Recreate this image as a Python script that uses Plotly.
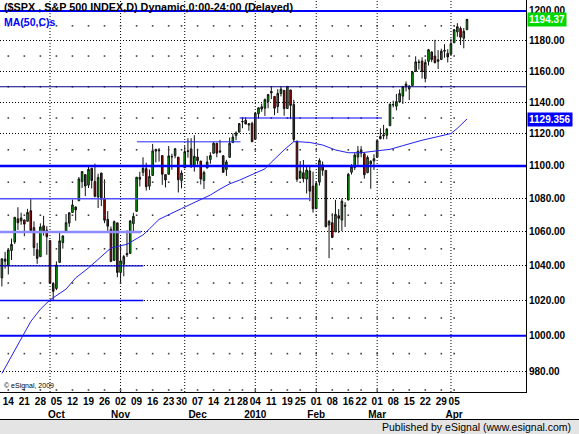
import math
import plotly.graph_objects as go

# daily bars, $SPX
dates = [
    "2009-09-10", "2009-09-11", "2009-09-14", "2009-09-15", "2009-09-16", "2009-09-17", "2009-09-18",
    "2009-09-21", "2009-09-22", "2009-09-23", "2009-09-24", "2009-09-25", "2009-09-28", "2009-09-29", "2009-09-30",
    "2009-10-01", "2009-10-02", "2009-10-05", "2009-10-06", "2009-10-07", "2009-10-08", "2009-10-09",
    "2009-10-12", "2009-10-13", "2009-10-14", "2009-10-15", "2009-10-16", "2009-10-19", "2009-10-20",
    "2009-10-21", "2009-10-22", "2009-10-23", "2009-10-26", "2009-10-27", "2009-10-28", "2009-10-29", "2009-10-30",
    "2009-11-02", "2009-11-03", "2009-11-04", "2009-11-05", "2009-11-06", "2009-11-09", "2009-11-10",
    "2009-11-11", "2009-11-12", "2009-11-13", "2009-11-16", "2009-11-17", "2009-11-18", "2009-11-19",
    "2009-11-20", "2009-11-23", "2009-11-24", "2009-11-25", "2009-11-27", "2009-11-30",
    "2009-12-01", "2009-12-02", "2009-12-03", "2009-12-04", "2009-12-07", "2009-12-08", "2009-12-09",
    "2009-12-10", "2009-12-11", "2009-12-14", "2009-12-15", "2009-12-16", "2009-12-17", "2009-12-18",
    "2009-12-21", "2009-12-22", "2009-12-23", "2009-12-24", "2009-12-28", "2009-12-29", "2009-12-30", "2009-12-31",
    "2010-01-04", "2010-01-05", "2010-01-06", "2010-01-07", "2010-01-08", "2010-01-11", "2010-01-12",
    "2010-01-13", "2010-01-14", "2010-01-15", "2010-01-19", "2010-01-20", "2010-01-21", "2010-01-22",
    "2010-01-25", "2010-01-26", "2010-01-27", "2010-01-28", "2010-01-29",
    "2010-02-01", "2010-02-02", "2010-02-03", "2010-02-04", "2010-02-05", "2010-02-08", "2010-02-09",
    "2010-02-10", "2010-02-11", "2010-02-12", "2010-02-16", "2010-02-17", "2010-02-18", "2010-02-19",
    "2010-02-22", "2010-02-23", "2010-02-24", "2010-02-25", "2010-02-26",
    "2010-03-01", "2010-03-02", "2010-03-03", "2010-03-04", "2010-03-05", "2010-03-08", "2010-03-09",
    "2010-03-10", "2010-03-11", "2010-03-12", "2010-03-15", "2010-03-16", "2010-03-17", "2010-03-18",
    "2010-03-19", "2010-03-22", "2010-03-23", "2010-03-24", "2010-03-25", "2010-03-26", "2010-03-29",
    "2010-03-30", "2010-03-31",
    "2010-04-01", "2010-04-05", "2010-04-06", "2010-04-07", "2010-04-08", "2010-04-09",
]
opens = [
    1032.99, 1043.92, 1040.15, 1049.03, 1053.99, 1067.87, 1066.60, 1067.14, 1066.35, 1072.69, 1062.56, 1049.48, 1045.38, 1063.69, 1061.02,
    1054.91, 1029.71, 1026.87, 1042.02, 1053.65, 1060.03, 1065.28, 1071.63, 1074.96, 1078.68, 1090.36, 1094.67, 1088.22, 1098.64, 1090.36, 1080.96, 1095.62, 1080.36, 1067.54, 1061.51, 1043.19, 1065.41,
    1036.18, 1040.92, 1047.30, 1047.30, 1064.95, 1072.31, 1091.86, 1096.04, 1098.31, 1087.59, 1094.13, 1109.22, 1109.44, 1106.44, 1094.66, 1094.86, 1105.83, 1106.49, 1105.47, 1091.07,
    1098.89, 1109.03, 1110.59, 1100.43, 1105.52, 1103.04, 1091.07, 1098.69, 1103.96, 1107.84, 1114.11, 1108.61, 1106.36, 1097.86, 1105.31, 1114.51, 1118.84, 1121.08, 1127.53, 1128.55, 1125.53, 1126.60,
    1116.56, 1132.66, 1135.71, 1136.27, 1140.52, 1145.96, 1143.81, 1137.31, 1145.68, 1147.72, 1136.03, 1147.95, 1138.68, 1115.49, 1092.40, 1095.80, 1091.94, 1096.93, 1087.61,
    1073.89, 1090.05, 1100.67, 1097.25, 1064.12, 1065.51, 1060.06, 1069.68, 1067.10, 1075.95, 1079.13, 1096.14, 1099.03, 1105.49, 1110.00, 1107.49, 1095.89, 1101.24, 1103.10,
    1105.36, 1117.01, 1119.36, 1119.12, 1125.12, 1138.40, 1137.56, 1140.22, 1143.96, 1151.71, 1148.53, 1150.83, 1159.94, 1166.13, 1166.68, 1155.35, 1166.47, 1172.70, 1170.03, 1167.58, 1167.71, 1173.75, 1171.75,
    1171.23, 1178.71, 1186.01, 1188.23, 1181.75, 1187.47,
]
highs = [
    1044.14, 1048.18, 1049.74, 1056.04, 1068.76, 1074.77, 1071.52, 1067.28, 1073.81, 1080.15, 1066.29, 1053.47, 1065.13, 1069.62, 1063.40,
    1054.91, 1030.60, 1042.58, 1060.55, 1058.02, 1070.67, 1071.51, 1079.46, 1075.30, 1093.17, 1096.56, 1094.67, 1100.17, 1098.64, 1101.36, 1095.21, 1095.83, 1091.75, 1072.48, 1063.26, 1066.83, 1065.41,
    1052.18, 1046.36, 1061.00, 1066.65, 1071.48, 1093.19, 1096.42, 1105.37, 1101.97, 1097.79, 1113.69, 1110.52, 1111.10, 1106.44, 1094.66, 1112.38, 1107.56, 1111.18, 1105.47, 1097.24,
    1112.28, 1117.24, 1117.28, 1119.13, 1110.72, 1103.04, 1097.04, 1106.25, 1108.50, 1114.76, 1114.11, 1116.21, 1106.36, 1103.74, 1117.68, 1120.27, 1121.58, 1126.48, 1130.38, 1130.38, 1126.42, 1127.64,
    1133.87, 1136.63, 1139.19, 1142.46, 1145.39, 1149.74, 1143.81, 1148.40, 1150.41, 1147.77, 1150.45, 1147.95, 1141.58, 1115.49, 1102.97, 1103.69, 1099.51, 1100.22, 1096.45,
    1089.38, 1104.73, 1102.72, 1097.25, 1067.13, 1071.20, 1079.28, 1073.67, 1080.04, 1077.81, 1095.67, 1101.03, 1108.24, 1112.42, 1112.29, 1108.58, 1106.42, 1103.50, 1107.24,
    1116.11, 1123.46, 1125.64, 1123.73, 1139.38, 1141.05, 1145.37, 1148.26, 1150.24, 1153.41, 1150.98, 1160.28, 1169.84, 1167.77, 1169.20, 1167.82, 1174.72, 1173.04, 1180.69, 1173.93, 1174.85, 1177.83, 1174.56,
    1181.43, 1187.73, 1191.80, 1189.60, 1188.55, 1194.66,
]
lows = [
    1028.04, 1038.40, 1035.00, 1043.42, 1052.87, 1061.20, 1064.27, 1057.46, 1066.35, 1060.39, 1045.85, 1041.17, 1045.38, 1057.83, 1046.47,
    1029.45, 1019.95, 1025.92, 1042.02, 1050.10, 1060.03, 1063.00, 1071.63, 1066.71, 1078.68, 1086.41, 1081.53, 1086.48, 1086.16, 1080.77, 1074.31, 1075.49, 1065.23, 1060.62, 1042.19, 1043.19, 1033.38,
    1029.38, 1033.94, 1045.15, 1047.30, 1059.32, 1072.31, 1087.40, 1093.81, 1084.90, 1085.33, 1094.13, 1102.19, 1102.70, 1088.40, 1086.81, 1094.86, 1097.63, 1104.75, 1083.74, 1086.25,
    1098.89, 1105.10, 1098.74, 1096.52, 1100.83, 1088.61, 1085.89, 1098.69, 1101.34, 1107.84, 1105.35, 1107.96, 1095.88, 1093.88, 1105.31, 1114.51, 1116.00, 1121.08, 1123.51, 1126.08, 1121.94, 1114.81,
    1116.56, 1129.66, 1133.95, 1131.32, 1136.22, 1142.02, 1131.77, 1133.18, 1143.80, 1131.39, 1135.77, 1129.25, 1114.84, 1090.18, 1092.40, 1089.86, 1083.11, 1078.46, 1071.59,
    1073.89, 1087.96, 1093.97, 1062.78, 1044.50, 1056.51, 1060.06, 1059.34, 1060.59, 1062.97, 1079.13, 1094.72, 1097.48, 1100.80, 1105.38, 1092.18, 1095.50, 1086.02, 1097.56,
    1105.36, 1116.51, 1116.58, 1116.66, 1125.12, 1136.77, 1134.90, 1140.09, 1138.99, 1146.97, 1141.45, 1150.35, 1159.94, 1161.16, 1155.33, 1152.88, 1163.83, 1166.01, 1165.09, 1161.48, 1167.71, 1168.92, 1165.77,
    1170.69, 1178.71, 1182.77, 1177.25, 1175.12, 1187.15,
]
closes = [
    1044.14, 1042.73, 1049.34, 1052.63, 1068.76, 1065.49, 1068.30, 1064.66, 1071.66, 1060.87, 1050.78, 1044.38, 1062.98, 1060.61, 1057.08,
    1029.85, 1025.21, 1040.46, 1054.72, 1057.58, 1065.48, 1071.49, 1076.19, 1073.19, 1092.02, 1096.56, 1087.68, 1097.91, 1091.06, 1081.40, 1092.91, 1079.60, 1066.95, 1063.41, 1042.63, 1066.11, 1036.19,
    1042.88, 1045.41, 1046.50, 1066.63, 1069.30, 1093.08, 1093.01, 1098.51, 1087.24, 1093.48, 1109.30, 1110.32, 1109.80, 1094.90, 1091.38, 1106.24, 1105.65, 1110.63, 1091.49, 1095.63,
    1108.86, 1109.24, 1099.92, 1105.98, 1103.25, 1091.94, 1095.95, 1102.35, 1106.41, 1114.11, 1107.93, 1109.18, 1096.08, 1102.47, 1114.05, 1118.02, 1120.59, 1126.48, 1127.78, 1126.20, 1126.42, 1115.10,
    1132.99, 1136.52, 1137.14, 1141.69, 1144.98, 1146.98, 1136.22, 1145.68, 1148.46, 1136.03, 1150.23, 1138.04, 1116.48, 1091.76, 1096.78, 1092.17, 1097.50, 1084.53, 1073.87,
    1089.19, 1103.32, 1097.28, 1063.11, 1066.19, 1056.74, 1070.52, 1068.13, 1078.47, 1075.51, 1094.87, 1099.51, 1106.75, 1109.17, 1108.01, 1094.60, 1105.24, 1102.94, 1104.49,
    1115.71, 1118.31, 1118.79, 1122.97, 1138.70, 1138.50, 1140.45, 1145.61, 1150.24, 1149.99, 1150.51, 1159.46, 1166.21, 1165.83, 1159.90, 1165.81, 1174.17, 1167.72, 1165.73, 1166.59, 1173.22, 1173.27, 1169.43,
    1178.10, 1187.44, 1189.44, 1182.45, 1186.44, 1194.37,
]

# MA(50,C)
ma_dates = [
    "2009-09-10", "2009-09-21", "2009-09-23", "2009-09-28", "2009-10-01", "2009-10-08", "2009-10-13",
    "2009-10-19", "2009-10-22", "2009-10-28", "2009-11-04", "2009-11-09", "2009-11-11", "2009-11-13",
    "2009-11-18", "2009-11-30", "2009-12-07", "2009-12-11", "2009-12-16", "2009-12-21", "2009-12-24",
    "2009-12-30", "2010-01-04", "2010-01-07", "2010-01-11", "2010-01-15", "2010-01-21", "2010-01-22",
    "2010-01-28", "2010-02-03", "2010-02-09", "2010-02-16", "2010-02-22", "2010-03-01", "2010-03-05",
    "2010-03-11", "2010-03-19", "2010-03-26", "2010-04-01", "2010-04-06", "2010-04-09",
]
ma_values = [
    979.0, 1001.0, 1008.0, 1015.0, 1020.3, 1026.5, 1033.0,
    1038.8, 1044.0, 1050.5, 1052.7, 1056.0, 1058.2, 1061.8,
    1067.5, 1074.0, 1078.3, 1082.2, 1085.8, 1089.0, 1091.2,
    1093.8, 1095.5, 1098.2, 1102.3, 1110.0, 1115.1, 1115.1,
    1114.6, 1113.0, 1109.9, 1108.2, 1108.2, 1109.6, 1110.3,
    1112.6, 1116.0, 1118.3, 1120.2, 1123.5, 1129.356,
]

# x axis: first bar of each week, month shown under the first week of the month
week_dates = [
    "2009-09-14", "2009-09-21", "2009-09-28", "2009-10-05", "2009-10-12", "2009-10-19", "2009-10-26",
    "2009-11-02", "2009-11-09", "2009-11-16", "2009-11-23", "2009-11-30", "2009-12-07", "2009-12-14",
    "2009-12-21", "2009-12-28", "2010-01-04", "2010-01-11", "2010-01-19", "2010-01-25", "2010-02-01",
    "2010-02-08", "2010-02-16", "2010-02-22", "2010-03-01", "2010-03-08", "2010-03-15", "2010-03-22",
    "2010-03-29", "2010-04-05",
]
week_labels = [
    "14", "21", "28", "05<br>Oct", "12", "19", "26", "02<br>Nov", "09", "16", "23", "30", "07<br>Dec", "14",
    "21", "28", "04<br>2010", "11", "19", "25", "01<br>Feb", "08", "16", "22", "01<br>Mar", "08", "15", "22",
    "29", "05<br>Apr",
]
month_dates = ["2009-10-01", "2009-11-02", "2009-12-01", "2010-01-04", "2010-02-01", "2010-03-01", "2010-04-01"]

price_ticks = [980, 1000, 1020, 1040, 1060, 1080, 1100, 1120, 1140, 1160, 1180, 1200]
dot_levels = [970, 990, 1010, 1030, 1050, 1070, 1090, 1110, 1130, 1150, 1170, 1190]

# drawn support / resistance lines (bar positions, None = chart edge)
level_values = [1200, 1150, 1130, 1115, 1100, 1080, 1060, 1040, 1020, 1000]
level_from = [None, None, 74.1, 42.1, None, None, None, None, None, None]
level_to = [None, None, 118.5, 74.4, None, 96.2, 43.4, 44.1, 44.1, None]

level_colors = ["#0000FF", "#000080", "#0000FF", "#2828FF", "#0000FF",
                "#5050FF", "#8C8CFF", "#0000C8", "#0000FF", "#0000FF"]
level_widths = [2, 1, 1, 1, 2.5, 1.5, 2.5, 1.2, 1.5, 2]

FONT = "Liberation Sans, Arial, sans-serif"
X_LO, X_HI = -0.59, 163.4
Y_LO, Y_HI = 968.9, 1207.4

pos = {d: i for i, d in enumerate(dates)}
bars = list(range(len(dates)))

fig = go.Figure()

# weekly grid dots on the in-between levels
dot_x, dot_y = [], []
for lv in dot_levels:
    for d in week_dates:
        dot_x.append(pos[d])
        dot_y.append(lv)
fig.add_trace(go.Scatter(x=dot_x, y=dot_y, mode="markers",
                         marker=dict(symbol="square", size=1.6, color="#404040"),
                         hoverinfo="skip"))

fig.add_trace(go.Candlestick(
    x=bars, open=opens, high=highs, low=lows, close=closes,
    increasing=dict(fillcolor="#00C000", line=dict(color="#111111", width=1)),
    decreasing=dict(fillcolor="#B00000", line=dict(color="#111111", width=1)),
    whiskerwidth=0, hoverinfo="skip",
))

for lv, a, b, c, w in zip(level_values, level_from, level_to, level_colors, level_widths):
    x0 = X_LO if a is None else a
    x1 = X_HI if b is None else b
    fig.add_trace(go.Scatter(x=[x0, x1], y=[lv, lv], mode="lines",
                             line=dict(color=c, width=w), hoverinfo="skip"))

fig.add_trace(go.Scatter(x=[pos[d] for d in ma_dates], y=ma_values, mode="lines",
                         line=dict(color="#2222F0", width=1), hoverinfo="skip"))

for d in month_dates:
    fig.add_shape(type="line", xref="x", yref="paper", x0=pos[d], x1=pos[d], y0=0, y1=1,
                  line=dict(color="#000000", width=1, dash="1px,2px"), layer="below")

# status bar at the bottom
fig.add_shape(type="rect", xref="paper", yref="paper", x0=-0.01, x1=1.2,
              y0=(392 - 434) / 392, y1=(392 - 419.5) / 392,
              fillcolor="#E4E4E4", line=dict(width=0))
fig.add_shape(type="line", xref="paper", yref="paper", x0=-0.01, x1=1.2,
              y0=(392 - 419.5) / 392, y1=(392 - 419.5) / 392,
              line=dict(color="#000000", width=1))

fig.add_annotation(text="($SPX , S&P 500 INDEX,D) Dynamic,0:00-24:00 (Delayed)",
                   xref="paper", yref="paper", x=0.004, y=(392 - 7.5) / 392,
                   xanchor="left", yanchor="middle", showarrow=False,
                   font=dict(family=FONT, size=10.8, color="#000000", weight="bold"))
fig.add_annotation(text="MA(50,C)s", xref="paper", yref="paper", x=0.004, y=(392 - 22) / 392,
                   xanchor="left", yanchor="middle", showarrow=False,
                   font=dict(family=FONT, size=10.5, color="#0000FF", weight="bold"))
fig.add_annotation(text="\u00a9 eSignal, 2009", xref="paper", yref="paper", x=0.004, y=(392 - 385.5) / 392,
                   xanchor="left", yanchor="middle", showarrow=False,
                   font=dict(family=FONT, size=7, color="#000000"))
fig.add_annotation(text="Published by eSignal (www.esignal.com)", xref="paper", yref="paper",
                   x=573 / 526, y=(392 - 427) / 392, xanchor="right", yanchor="middle",
                   showarrow=False, font=dict(family=FONT, size=10.5, color="#000000"))

# last price / last MA value boxes on the price scale
fig.add_annotation(text="%.2f" % closes[-1], xref="paper", yref="y", x=1, xshift=1,
                   y=math.log10(closes[-1]), xanchor="left", yanchor="middle", showarrow=False,
                   bgcolor="#00D800", borderpad=1,
                   font=dict(family=FONT, size=10, color="#FFFFFF", weight="bold"))
fig.add_annotation(text="%.3f" % ma_values[-1], xref="paper", yref="y", x=1, xshift=1,
                   y=math.log10(ma_values[-1]), xanchor="left", yanchor="middle", showarrow=False,
                   bgcolor="#0000FF", borderpad=1,
                   font=dict(family=FONT, size=10, color="#FFFFFF", weight="bold"))

fig.update_layout(
    width=579, height=434,
    margin=dict(l=0, r=53, t=0, b=42),
    paper_bgcolor="#FFFFFF", plot_bgcolor="#FFFFFF",
    showlegend=False, hovermode=False,
    xaxis=dict(
        range=[X_LO, X_HI], rangeslider=dict(visible=False),
        tickmode="array", tickvals=[pos[d] for d in week_dates], ticktext=week_labels,
        showgrid=False, zeroline=False, showline=True, linecolor="#000000", linewidth=1,
        ticks="", tickangle=0, tickfont=dict(family=FONT, size=10, color="#000000", weight="bold"),
    ),
    yaxis=dict(
        type="log", side="right", range=[math.log10(Y_LO), math.log10(Y_HI)],
        tickmode="array", tickvals=price_ticks, ticktext=["%.2f" % v for v in price_ticks],
        showgrid=True, gridcolor="#000000", gridwidth=1, griddash="1px,2px",
        zeroline=False, showline=True, linecolor="#000000", linewidth=1, ticks="",
        tickfont=dict(family=FONT, size=10, color="#000000", weight="bold"),
    ),
)

# the page body has a default 8px margin; drop it so the chart sits at the window corner
fig.write_html("out.html", config={"displayModeBar": False},
               post_script="document.body.style.margin='0px';")
